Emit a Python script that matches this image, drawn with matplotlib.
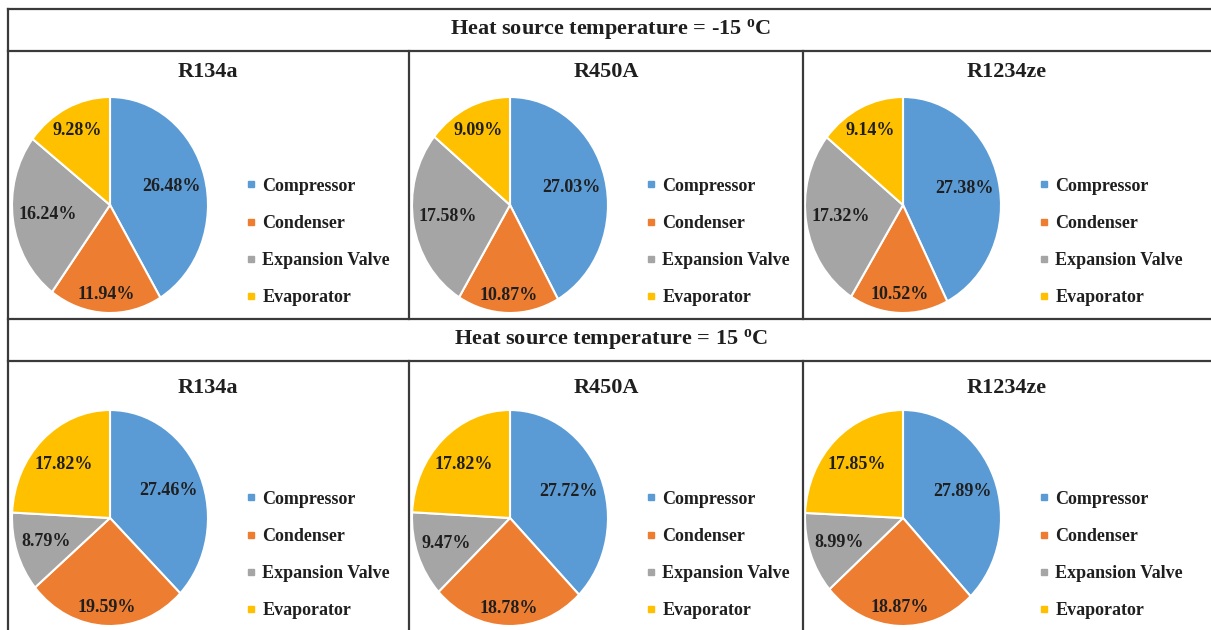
import matplotlib
matplotlib.use("Agg")
import matplotlib.pyplot as plt
from matplotlib.lines import Line2D
import numpy as np

# ---- data ----
components = ["Compressor", "Condenser", "Expansion Valve", "Evaporator"]
refrigerants = ["R134a", "R450A", "R1234ze"]
headers = ["Heat source temperature = -15 $^{\\mathrm{o}}$C",
           "Heat source temperature = 15 $^{\\mathrm{o}}$C"]
vals_m15 = {
    "R134a":   [26.48, 11.94, 16.24, 9.28],
    "R450A":   [27.03, 10.87, 17.58, 9.09],
    "R1234ze": [27.38, 10.52, 17.32, 9.14],
}
vals_p15 = {
    "R134a":   [27.46, 19.59, 8.79, 17.82],
    "R450A":   [27.72, 18.78, 9.47, 17.82],
    "R1234ze": [27.89, 18.87, 8.99, 17.85],
}

colors = ["#5B9BD5", "#ED7D31", "#A5A5A5", "#FFC000"]

plt.rcParams["font.family"] = ["Liberation Serif", "DejaVu Serif"]
plt.rcParams["font.weight"] = "bold"
plt.rcParams["mathtext.fontset"] = "custom"
plt.rcParams["mathtext.rm"] = "Liberation Serif:bold"
plt.rcParams["mathtext.it"] = "Liberation Serif:bold"
plt.rcParams["mathtext.bf"] = "Liberation Serif:bold"

W, H = 1211, 630
fig = plt.figure(figsize=(W / 100, H / 100), dpi=100)
renderer = fig.canvas.get_renderer()

def fx(px):
    return px / W

def fy(py):
    return 1 - py / H

text_col = "#1f1f1f"
line_col = "#3a3a3a"

# grid lines
def hline(y, x0=8, x1=1211):
    fig.add_artist(Line2D([fx(x0), fx(x1)], [fy(y), fy(y)], color=line_col, lw=1.6,
                          transform=fig.transFigure))

def vline(x, y0, y1):
    fig.add_artist(Line2D([fx(x), fx(x)], [fy(y0), fy(y1)], color=line_col, lw=1.6,
                          transform=fig.transFigure))

for y in [9, 51, 319, 361]:
    hline(y)
vline(8, 9, 630)
for x in [409, 803]:
    vline(x, 51, 319)
    vline(x, 361, 630)

# headers
for hdr, y in zip(headers, [30, 340]):
    fig.text(0.504, fy(y), hdr, ha="center", va="center", fontsize=16,
             fontweight="bold", color=text_col)

pie_cx = [110, 510, 903]
panel_cx = [208, 606, 1007]
rows = [(vals_m15, 205, 72), (vals_p15, 518, 388)]
rx, ry = 98, 108
R_fit = 0.95  # outer text corner kept at this fraction of the radius

for data, cy, ty in rows:
    for i, ref in enumerate(refrigerants):
        vals = data[ref]
        aw, ah = 2.2 * rx, 2.2 * ry
        ax = fig.add_axes([fx(pie_cx[i] - aw / 2), fy(cy + ah / 2), aw / W, ah / H])
        wedges, _ = ax.pie(vals, colors=colors, startangle=90, counterclock=False,
                           wedgeprops=dict(edgecolor="white", linewidth=1.5),
                           radius=1.0)
        ax.set_aspect("auto")
        ax.set_xlim(-1.1, 1.1)
        ax.set_ylim(-1.1, 1.1)
        for w, v in zip(wedges, vals):
            ang = np.deg2rad((w.theta1 + w.theta2) / 2)
            ux, uy = np.cos(ang), np.sin(ang)
            t = ax.text(0, 0, f"{v:.2f}%", ha="center", va="center", fontsize=13,
                        fontweight="bold", color=text_col)
            bb = t.get_window_extent(renderer)
            hw = bb.width / 2 / rx
            hh = bb.height * 0.75 / 2 / ry
            sx, sy = np.sign(ux), np.sign(uy)
            lo, hi = 0.0, 1.0
            for _ in range(40):
                mid = (lo + hi) / 2
                r = np.hypot(ux * mid + sx * hw, uy * mid + sy * hh)
                if r > R_fit:
                    hi = mid
                else:
                    lo = mid
            t.set_position((ux * lo, uy * lo))
        fig.text(fx(panel_cx[i]), fy(ty), ref, ha="center", va="center", fontsize=16,
                 fontweight="bold", color=text_col)
        handles = [Line2D([], [], marker="s", linestyle="none", markersize=4.8,
                          markerfacecolor=c, markeredgecolor=c) for c in colors]
        fig.legend(handles, components, loc="center left",
                   bbox_to_anchor=(fx(pie_cx[i] + 137), fy(cy + 37)),
                   bbox_transform=fig.transFigure, frameon=False,
                   prop=dict(family="Liberation Serif", weight="bold", size=13),
                   labelcolor=text_col, handlelength=0.45, handletextpad=0.4,
                   labelspacing=1.12, borderpad=0, borderaxespad=0)

fig.savefig("out.png", dpi=100, facecolor="white")
